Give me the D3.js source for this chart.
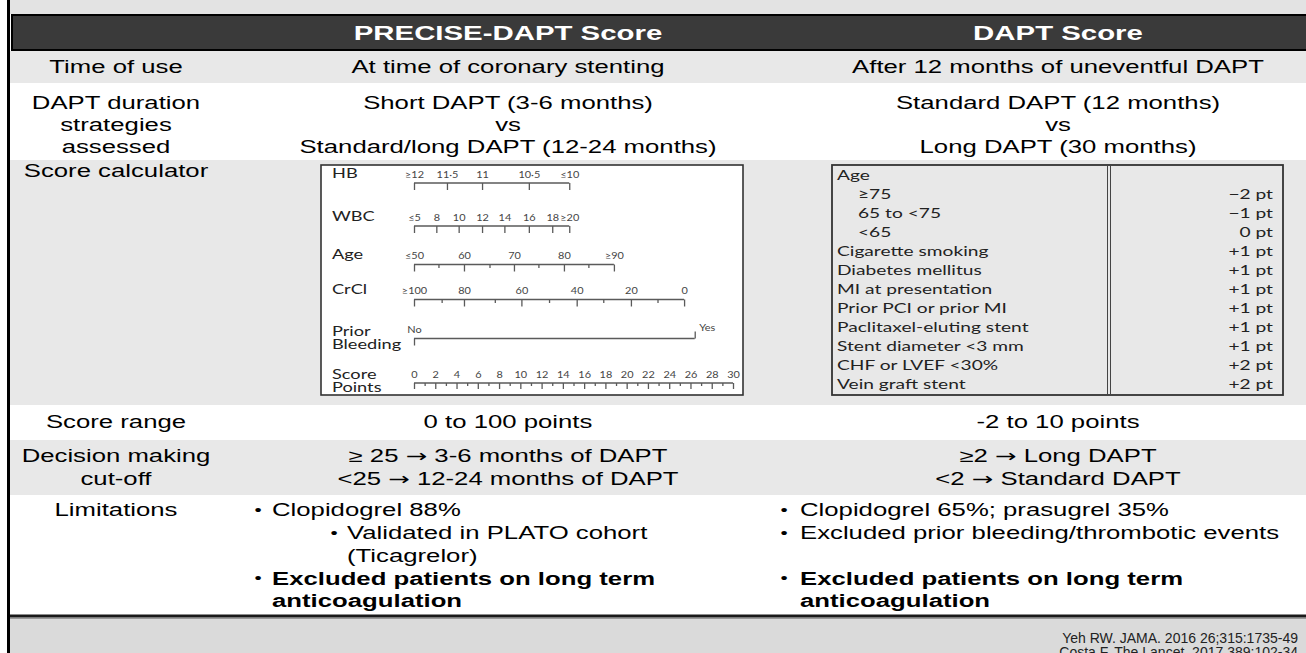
<!DOCTYPE html>
<html>
<head>
<meta charset="utf-8">
<script src="https://cdn.jsdelivr.net/npm/d3@7"></script>
<style>
  html, body { margin: 0; padding: 0; background: #fff; overflow: hidden; }
</style>
</head>
<body>
<svg id="chart"></svg>
<script>
// ---------- data ----------
const columnTitles = ["PRECISE-DAPT Score", "DAPT Score"];
const rowLabels = [
  ["Time of use"],
  ["DAPT duration", "strategies", "assessed"],
  ["Score calculator"],
  ["Score range"],
  ["Decision making", "cut-off"],
  ["Limitations"]
];
const preciseTime = ["At time of coronary stenting"];
const daptTime = ["After 12 months of uneventful DAPT"];
const preciseDuration = ["Short DAPT (3-6 months)", "vs", "Standard/long DAPT (12-24 months)"];
const daptDuration = ["Standard DAPT (12 months)", "vs", "Long DAPT (30 months)"];
const preciseRange = "0 to 100 points";
const daptRange = "-2 to 10 points";
const preciseCutoff = ["\u2265 25 \u2192 3-6 months of DAPT", "<25 \u2192 12-24 months of DAPT"];
const daptCutoff = ["\u22652 \u2192 Long DAPT", "<2 \u2192 Standard DAPT"];

// limitations: level 0 = bullet, 1 = sub bullet, cont = wrapped line
const preciseLimits = [
  { t: "Clopidogrel 88%", level: 0 },
  { t: "Validated in PLATO cohort", level: 1 },
  { t: "(Ticagrelor)", level: 1, cont: true },
  { t: "Excluded patients on long term", level: 0, bold: true },
  { t: "anticoagulation", level: 0, bold: true, cont: true }
];
const daptLimits = [
  { t: "Clopidogrel 65%; prasugrel 35%", level: 0 },
  { t: "Excluded prior bleeding/thrombotic events", level: 0 },
  { t: "", level: 0, cont: true },
  { t: "Excluded patients on long term", level: 0, bold: true },
  { t: "anticoagulation", level: 0, bold: true, cont: true }
];

// PRECISE-DAPT nomogram, tick positions read in score points (0-30)
const hbLabels = ["\u226512", "11\u00b75", "11", "10\u00b75", "\u226410"];
const hbPoints = [0, 3.1, 6.4, 10.8, 14.6];
const wbcLabels = ["\u22645", "8", "10", "12", "14", "16", "18", "\u226520"];
const wbcPoints = [0, 2.1, 4.2, 6.4, 8.5, 10.8, 13.0, 14.6];
const ageLabels = ["\u226450", "60", "70", "80", "\u226590"];
const agePoints = [0, 4.7, 9.4, 14.1, 18.8];
const ageMinorPoints = [2.3, 7.1, 11.7, 16.4];
const crclLabels = ["\u2265100", "80", "60", "40", "20", "0"];
const crclPoints = [0, 4.7, 10.1, 15.3, 20.4, 25.4];
const crclMinorPoints = [2.6, 7.6, 12.7, 17.8, 22.9];
const bleedLabels = ["No", "Yes"];
const bleedPoints = [0, 26.4];
const scoreMax = 30;

// DAPT score calculator
const ageBands = ["\u226575", "65 to <75", "<65"];
const ageBandPts = [-2, -1, 0];
const riskFactors = ["Cigarette smoking", "Diabetes mellitus", "MI at presentation",
  "Prior PCI or prior MI", "Paclitaxel-eluting stent", "Stent diameter <3 mm",
  "CHF or LVEF <30%", "Vein graft stent"];
const riskPts = [1, 1, 1, 1, 1, 1, 2, 2];

const references = ["Yeh RW. JAMA. 2016 26;315:1735-49", "Costa F. The Lancet. 2017 389:102-34"];

// ---------- layout ----------
const W = 1306, H = 653;
const sx = 1.47;                 // the slide is stretched horizontally
const bodySize = 17.5;
const bodyFont = "'Liberation Sans', Arial, sans-serif";
const nomoFont = "Lato, 'Open Sans', sans-serif";
const rowY = [51, 83, 160, 405, 440, 495, 615];
const rowFill = ["#e8e8e8", "#ffffff", "#e8e8e8", "#ffffff", "#e8e8e8", "#ffffff"];
const colX = { label: 116, precise: 508, dapt: 1058 };

const svg = d3.select("#chart").attr("width", W).attr("height", H);

function put(sel, x, y, str, o = {}) {
  const size = o.size || bodySize;
  const t = sel.append("text")
    .attr("transform", `translate(${x},${y}) scale(${o.sx || sx},1)`)
    .attr("text-anchor", o.anchor || "middle")
    .attr("dy", "0.36em")
    .attr("font-family", o.font || bodyFont)
    .attr("font-size", size)
    .attr("font-weight", o.weight || "normal")
    .attr("fill", o.fill || "#000");
  if (str.includes("\u2192")) {
    // the arrow is drawn with a wider glyph, like the slide's symbol font
    str.split("\u2192").forEach((part, i) => {
      if (i > 0) t.append("tspan").attr("font-family", "'DejaVu Sans', sans-serif").text("\u2192");
      t.append("tspan").text(part);
    });
  } else {
    t.text(str);
  }
  return t;
}

// background pieces
svg.append("rect").attr("x", 0).attr("y", 0).attr("width", W).attr("height", H).attr("fill", "#fff");
svg.append("rect").attr("x", 10).attr("y", 0).attr("width", W - 10).attr("height", 14).attr("fill", "#e3e3e3");

// rows
svg.selectAll("rect.row")
  .data(rowLabels)
  .enter()
  .append("rect")
  .attr("class", "row")
  .attr("x", 10)
  .attr("y", (d, i) => rowY[i])
  .attr("width", W - 10)
  .attr("height", (d, i) => rowY[i + 1] - rowY[i])
  .attr("fill", (d, i) => rowFill[i]);

// header
svg.append("rect").attr("x", 12).attr("y", 15).attr("width", W).attr("height", 35)
  .attr("fill", "#3a3a3a").attr("stroke", "#000").attr("stroke-width", 2);
put(svg, colX.precise, 33, columnTitles[0], { size: 20, weight: "bold", fill: "#fff" });
put(svg, colX.dapt, 33, columnTitles[1], { size: 20, weight: "bold", fill: "#fff" });

// left row labels
const labelY = [[67], [103, 125, 147], [171], [422], [456, 479], [510]];
rowLabels.forEach((lines, i) => {
  lines.forEach((s, j) => put(svg, colX.label, labelY[i][j], s));
});

// simple text cells
preciseTime.forEach(s => put(svg, colX.precise, 67, s));
daptTime.forEach(s => put(svg, colX.dapt, 67, s));
preciseDuration.forEach((s, j) => put(svg, colX.precise, labelY[1][j], s));
daptDuration.forEach((s, j) => put(svg, colX.dapt, labelY[1][j], s));
put(svg, colX.precise, labelY[3][0], preciseRange);
put(svg, colX.dapt, labelY[3][0], daptRange);
preciseCutoff.forEach((s, j) => put(svg, colX.precise, labelY[4][j], s));
daptCutoff.forEach((s, j) => put(svg, colX.dapt, labelY[4][j], s));

// limitations
const limY = d3.scalePoint().domain(d3.range(5)).range([510, 601]);
function drawLimits(list, bx, tx, subBx, subTx) {
  list.forEach((d, i) => {
    if (!d.t) return;
    const b = d.level === 1 ? subBx : bx;
    const t = d.level === 1 ? subTx : tx;
    if (!d.cont) put(svg, b, limY(i), "\u2022", { size: 14 });
    put(svg, t, limY(i), d.t, { anchor: "start", weight: d.bold ? "bold" : "normal" });
  });
}
drawLimits(preciseLimits, 258, 272, 334, 347);
drawLimits(daptLimits, 784, 800, 784, 800);

// footer
svg.append("rect").attr("x", 10).attr("y", 617).attr("width", W - 10).attr("height", H - 617).attr("fill", "#dadada");
svg.append("line").attr("x1", 10).attr("x2", W).attr("y1", 616).attr("y2", 616)
  .attr("stroke", "#1a1a1a").attr("stroke-width", 3);
svg.append("line").attr("x1", 10).attr("x2", W).attr("y1", 618.5).attr("y2", 618.5)
  .attr("stroke", "#999").attr("stroke-width", 1);
references.forEach((s, j) => put(svg, 1298, 638 + j * 14, s, { anchor: "end", size: 14, sx: 1.0, fill: "#222" }));

// left border
svg.append("line").attr("x1", 8.5).attr("x2", 8.5).attr("y1", 0).attr("y2", H)
  .attr("stroke", "#000").attr("stroke-width", 3);

// ---------- PRECISE-DAPT nomogram ----------
const nomo = svg.append("g");
nomo.append("rect").attr("x", 321).attr("y", 165).attr("width", 422).attr("height", 230)
  .attr("fill", "#fff").attr("stroke", "#333").attr("stroke-width", 1.6);

const xPts = d3.scaleLinear().domain([0, scoreMax]).range([414, 733]);
const nsx = 1.15;

function styleTicks(a) {
  a.select(".domain").remove();
  a.selectAll("line").attr("stroke-width", 1.3);
  a.selectAll("text")
    .attr("y", -5.5).attr("dy", 0)
    .attr("transform", `scale(${nsx},1)`)
    .attr("font-family", nomoFont).attr("font-size", 9.5).attr("fill", "#444");
}

function nomoAxis(y, points, labels, minor, tick) {
  const g = nomo.append("g").attr("transform", `translate(0,${y})`).attr("color", "#5a5a5a");
  g.append("line")
    .attr("x1", xPts(points[0])).attr("x2", xPts(points[points.length - 1]))
    .attr("stroke", "#5a5a5a").attr("stroke-width", 1.3);
  g.append("g")
    .call(d3.axisBottom(xPts).tickValues(points).tickFormat((d, i) => labels[i])
      .tickSize(tick).tickSizeOuter(0))
    .call(styleTicks);
  if (minor) {
    g.append("g")
      .call(d3.axisBottom(xPts).tickValues(minor).tickFormat("").tickSize(tick / 2).tickSizeOuter(0))
      .call(styleTicks);
  }
  return g;
}

function nomoName(lines, y0) {
  lines.forEach((s, j) => put(nomo, 332, y0 + j * 13, s,
    { anchor: "start", font: nomoFont, size: 13, sx: 1.4, fill: "#222" }));
}

nomoAxis(183, hbPoints, hbLabels, null, 7);
nomoName(["HB"], 173);
nomoAxis(226, wbcPoints, wbcLabels, null, 7);
nomoName(["WBC"], 216);
nomoAxis(264.5, agePoints, ageLabels, ageMinorPoints, 7);
nomoName(["Age"], 254.5);
nomoAxis(299.5, crclPoints, crclLabels, crclMinorPoints, 7);
nomoName(["CrCl"], 289.5);

// prior bleeding: No tick hangs down, Yes tick points up
const gb = nomo.append("g").attr("transform", "translate(0,338.5)").attr("color", "#5a5a5a");
gb.append("line").attr("x1", xPts(bleedPoints[0])).attr("x2", xPts(bleedPoints[1]))
  .attr("stroke", "#5a5a5a").attr("stroke-width", 1.3);
gb.append("g")
  .call(d3.axisBottom(xPts).tickValues([bleedPoints[0]]).tickFormat(() => bleedLabels[0]).tickSize(7).tickSizeOuter(0))
  .call(styleTicks);
gb.append("g")
  .call(d3.axisTop(xPts).tickValues([bleedPoints[1]]).tickFormat(() => bleedLabels[1]).tickSize(7).tickSizeOuter(0))
  .call(styleTicks)
  .call(a => a.selectAll("text").attr("x", 0).attr("y", -8)
    .attr("transform", `translate(12,0) scale(${nsx},1)`));
nomoName(["Prior", "Bleeding"], 331.5);

// score points axis
const gs = nomo.append("g").attr("transform", "translate(0,383)").attr("color", "#5a5a5a");
gs.append("line").attr("x1", xPts(0)).attr("x2", xPts(scoreMax))
  .attr("stroke", "#5a5a5a").attr("stroke-width", 1.3);
gs.append("g")
  .call(d3.axisBottom(xPts).tickValues(d3.range(0, scoreMax + 1, 2)).tickSize(6).tickSizeOuter(0))
  .call(styleTicks);
gs.append("g")
  .call(d3.axisBottom(xPts).tickValues(d3.range(1, scoreMax, 2)).tickFormat("").tickSize(3).tickSizeOuter(0))
  .call(styleTicks);
nomoName(["Score", "Points"], 374);

// ---------- DAPT score table ----------
const daptRows = [{ label: "Age" }]
  .concat(ageBands.map((b, i) => ({ label: b, pts: ageBandPts[i], sub: true })))
  .concat(riskFactors.map((r, i) => ({ label: r, pts: riskPts[i] })));

const tab = svg.append("g");
tab.append("rect").attr("x", 832).attr("y", 165).attr("width", 451).attr("height", 230)
  .attr("fill", "#e8e8e8").attr("stroke", "#333").attr("stroke-width", 1.8);
[1107.5, 1110.5].forEach(x => tab.append("line").attr("x1", x).attr("x2", x)
  .attr("y1", 165).attr("y2", 395).attr("stroke", "#444").attr("stroke-width", 1));

const yRow = d3.scalePoint().domain(d3.range(daptRows.length)).range([175, 384]);
const fmtPts = v => (v < 0 ? "\u2212" + Math.abs(v) : v > 0 ? "+" + v : "0") + " pt";

tab.selectAll("g.item")
  .data(daptRows)
  .enter()
  .append("g")
  .attr("class", "item")
  .each(function (d, i) {
    const g = d3.select(this);
    put(g, d.sub ? 858 : 837, yRow(i), d.label,
      { anchor: "start", font: nomoFont, size: 13.5, sx: 1.42, fill: "#222" });
    if (d.pts !== undefined) {
      put(g, 1273, yRow(i), fmtPts(d.pts),
        { anchor: "end", font: nomoFont, size: 13.5, sx: 1.42, fill: "#222" });
    }
  });
</script>
</body>
</html>
